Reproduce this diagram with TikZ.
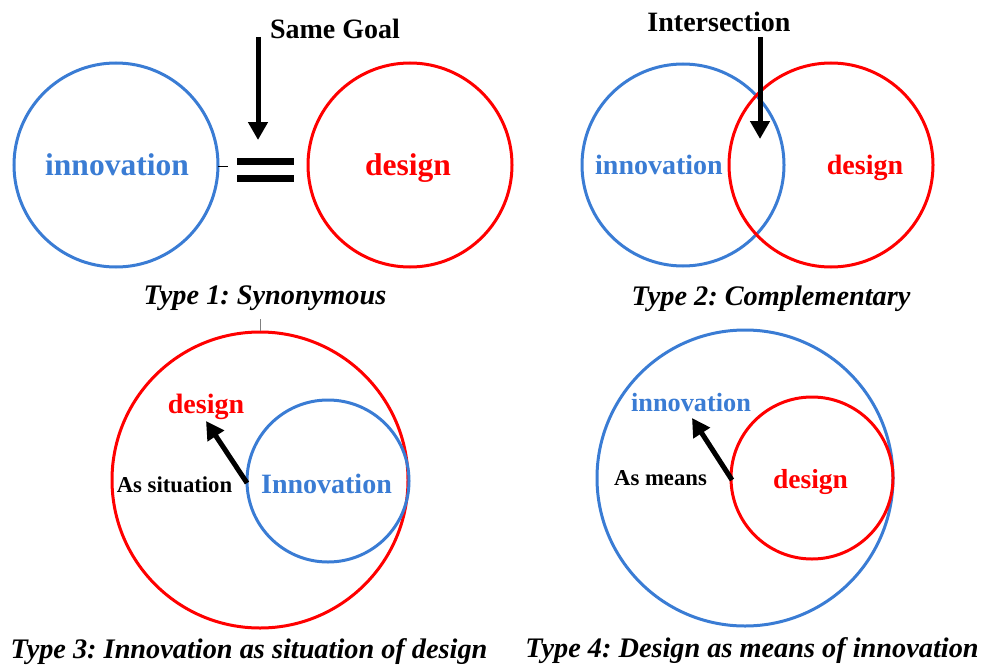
\documentclass[tikz,border=0pt]{standalone}
\usepackage{fontspec}
\setmainfont{Liberation Serif}
\usetikzlibrary{arrows.meta}
\definecolor{iblue}{RGB}{58,124,212}
\definecolor{dred}{RGB}{255,0,0}
\frenchspacing
\tikzset{
  ring/.style={circle, draw, line width=3pt, inner sep=0pt, minimum size=#1},
  lbl/.style={font=\bfseries\fontsize{#1}{#1}\selectfont, inner sep=0pt, anchor=base},
  cap/.style={font=\bfseries\itshape\fontsize{#1}{#1}\selectfont, inner sep=0pt, anchor=base},
  bigarrow/.style={line width=5pt, -{Triangle[width=19pt,length=18pt]}},
  tick/.style={line width=1pt},
}
\begin{document}
\frenchspacing
\begin{tikzpicture}[x=1pt,y=-1pt]
\useasboundingbox (0,0) rectangle (981,666);

% ---------- Type 1 ----------
\node[ring=204pt, draw=iblue] (c1b) at (116,165) {};
\node[ring=204pt, draw=dred] (c1r) at (410,165) {};
\node[lbl=31.5, text=iblue] (inn1) at (117,175) {innovation};
\node[lbl=31.5, text=dred] (des1) at (408,175) {design};
\fill (237,158) rectangle (294,165);
\fill (237,175) rectangle (294,182);
\coordinate (tk1a) at (218,166);
\coordinate (tk1b) at (228,166);
\draw[tick] (tk1a) -- (tk1b);
\node[lbl=28] (same) at (335,39) {Same Goal};
\coordinate (sg1) at (258,37);
\coordinate (sg2) at (258,140);
\draw[bigarrow] (sg1) -- (sg2);
\node[cap=28.3] (t1) at (265,304) {Type 1: Synonymous};

% ---------- Type 2 ----------
\node[ring=202pt, draw=iblue] (c2b) at (683,165) {};
\node[ring=204pt, draw=dred] (c2r) at (831,165) {};
\node[lbl=28, text=iblue] (inn2) at (659,174) {innovation};
\node[lbl=28, text=dred] (des2) at (865,174) {design};
\node[lbl=28] (inter) at (719,32) {Intersection};
\coordinate (is1) at (760,37);
\coordinate (is2) at (760,139);
\draw[bigarrow] (is1) -- (is2);
\node[cap=28.3] (t2) at (771,305) {Type 2: Complementary};

% ---------- Type 3 ----------
\node[ring=296pt, draw=dred] (c3r) at (260,480) {};
\node[ring=162pt, draw=iblue] (c3b) at (328,481) {};
\coordinate (tk3a) at (260,319);
\draw[tick, gray] (tk3a) -- (c3r.north);
\node[lbl=28, text=dred] (des3) at (206,413) {design};
\node[lbl=22.7] (sit) at (174.5,492) {As situation};
\node[lbl=28, text=iblue] (inn3) at (326.5,493) {Innovation};
\coordinate (a3s) at (247,483);
\coordinate (a3e) at (206,421);
\draw[bigarrow] (a3s) -- (a3e);
\node[cap=28.3] (t3) at (249,658) {Type 3: Innovation as situation of design};

% ---------- Type 4 ----------
\node[ring=296pt, draw=iblue] (c4b) at (745,478) {};
\node[ring=162pt, draw=dred] (c4r) at (812,478) {};
\node[lbl=26.3, text=iblue] (inn4) at (691,411) {innovation};
\node[lbl=22.7] (mea) at (660.5,485) {As means};
\node[lbl=27.5, text=dred] (des4) at (810.5,488) {design};
\coordinate (a4s) at (732,480);
\coordinate (a4e) at (692,418);
\draw[bigarrow] (a4s) -- (a4e);
\node[cap=28.3] (t4) at (752,657) {Type 4: Design as means of innovation};
\end{tikzpicture}
\end{document}
